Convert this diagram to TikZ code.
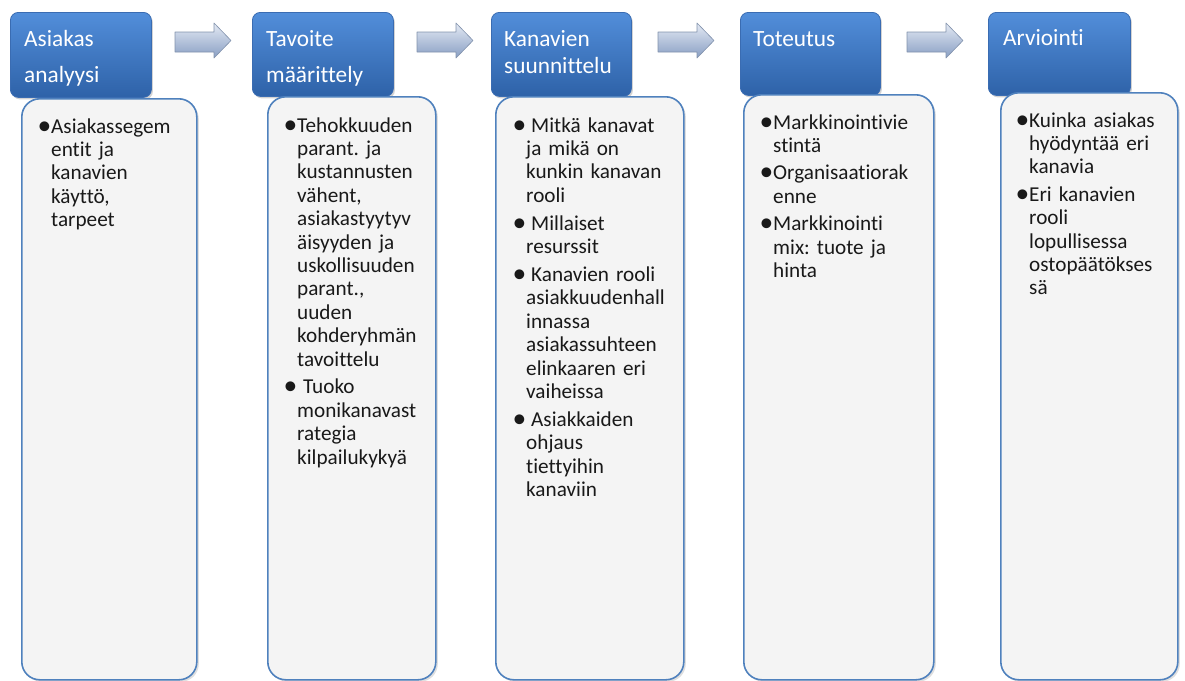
\documentclass[tikz,border=0pt]{standalone}
\usepackage{fontspec}
\setmainfont{Carlito}[Ligatures=NoCommon]
\usetikzlibrary{shadows,positioning,calc}
\definecolor{headTop}{RGB}{82,142,218}
\definecolor{headBot}{RGB}{46,98,168}
\definecolor{headEdge}{RGB}{58,108,178}
\definecolor{bodyFill}{RGB}{244,244,244}
\definecolor{bodyEdge}{RGB}{79,129,189}
\definecolor{arrTop}{RGB}{228,234,244}
\definecolor{arrBot}{RGB}{136,158,195}
\definecolor{arrEdge}{RGB}{130,146,172}
\newcommand{\bl}{\leavevmode\llap{\makebox[13.5pt][l]{\raisebox{-1pt}{\scalebox{1.3}{•}}}}}
\frenchspacing

\begin{document}
\begin{tikzpicture}[x=1pt,y=-1pt,
  headbox/.style={draw=headEdge,line width=0.8pt,rounded corners=8pt,
    top color=headTop,bottom color=headBot,anchor=north west,
    drop shadow={opacity=0.35,shadow xshift=1.5pt,shadow yshift=-2pt}},
  bodybox/.style={draw=bodyEdge,line width=1.6pt,rounded corners=18pt,
    fill=bodyFill,anchor=north west,
    drop shadow={opacity=0.25,shadow xshift=2pt,shadow yshift=-2pt}},
  headtext/.style={text=white,anchor=base west,inner sep=0pt,text width=130pt,
    align=left,font=\fontsize{23.3}{27}\selectfont},
  bodytext/.style={text=black!90,anchor=base west,inner sep=0pt,text width=165pt,
    align=left,font=\fontsize{21.2}{23.4}\selectfont},
  blockarr/.style={draw=arrEdge,line width=0.6pt,top color=arrTop,bottom color=arrBot,
    line join=round}]
  \useasboundingbox (0,0) rectangle (1185,680);
  % header boxes
  \foreach \n/\x/\w/\h in {1/10/141/85,2/252/141/84,3/491/140/84,4/740/140/83,5/988/142/83}
    \node[headbox,minimum width=\w pt,minimum height=\h pt] (h\n) at (\x,12) {};
  % body boxes, drawn over the headers
  \foreach \n/\x/\y/\w in {1/21/98/175,2/267/96/168,3/495/96/188,4/743/94/190,5/1000/92/177}
    \node[bodybox,minimum width=\w pt,minimum height={679-\y}] (b\n) at (\x,\y) {};
  % block arrows between the steps
  \foreach \xa in {175,417,658,907}
    \draw[blockarr] (\xa,32) -- ++(39,0) -- ++(0,-9) -- ++(17,17.5) -- ++(-17,17.5)
      -- ++(0,-6) -- ++(-39,0) -- cycle;

  \node[headtext] (h1t) at (24,46) {Asiakas\\[9pt]analyysi};
  \node[headtext] (h2t) at (266,46) {Tavoite\\[9pt]määrittely};
  \node[headtext] (h3t) at (504,46) {Kanavien\\suunnittelu};
  \node[headtext] (h4t) at (753,46) {Toteutus};
  \node[headtext] (h5t) at (1003,45) {Arviointi};

  \node[bodytext] (b1t) at (51,133) {\bl Asiakassegem\\entit ja\\kanavien\\käyttö,\\tarpeet};
  \node[bodytext] (b2t) at (297,132) {\bl Tehokkuuden\\parant. ja\\kustannusten\\vähent,\\
    asiakastyytyv\\äisyyden ja\\uskollisuuden\\parant.,\\uuden\\kohderyhmän\\tavoittelu\\[4.5pt]
    \bl\hspace{6pt}Tuoko\\monikanavast\\rategia\\kilpailukykyä};
  \node[bodytext] (b3t) at (526,132) {\bl\hspace{5pt}Mitkä kanavat\\ja mikä on\\kunkin kanavan\\rooli\\[4.5pt]
    \bl\hspace{5pt}Millaiset\\resurssit\\[4.5pt]
    \bl\hspace{5pt}Kanavien rooli\\asiakkuudenhall\\innassa\\asiakassuhteen\\elinkaaren eri\\vaiheissa\\[4.5pt]
    \bl\hspace{5pt}Asiakkaiden\\ohjaus\\tiettyihin\\kanaviin};
  \node[bodytext] (b4t) at (773,129) {\bl Markkinointivie\\stintä\\[4pt]
    \bl Organisaatiorak\\enne\\[4pt]
    \bl Markkinointi\\mix: tuote ja\\hinta};
  \node[bodytext] (b5t) at (1029,127) {\bl Kuinka asiakas\\hyödyntää eri\\kanavia\\[4pt]
    \bl Eri kanavien\\rooli\\lopullisessa\\ostopäätökses\\sä};
\end{tikzpicture}
\end{document}
